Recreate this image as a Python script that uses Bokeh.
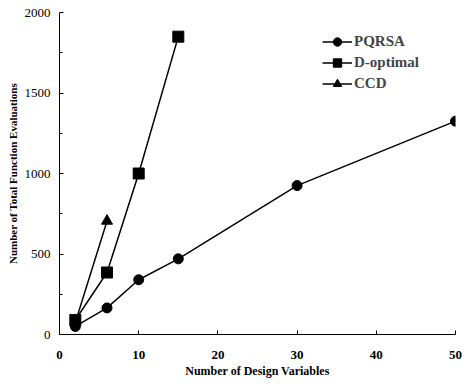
from bokeh.plotting import figure
from bokeh.models import Range1d, Legend, LegendItem, FixedTicker, Title
from bokeh.embed import file_html
from bokeh.resources import INLINE

pqrsa_x = [2, 6, 10, 15, 30, 50]
pqrsa_y = [50, 165, 340, 470, 925, 1325]
dopt_x = [2, 6, 10, 15]
dopt_y = [90, 385, 1000, 1850]
ccd_x = [2, 6]
ccd_y = [75, 705]

FONT = "Liberation Serif"

p = figure(width=462, height=379, output_backend="svg", toolbar_location=None,
           x_range=Range1d(0, 50), y_range=Range1d(0, 2000),
           min_border_left=59, min_border_right=7, min_border_top=12, min_border_bottom=45)
p.outline_line_color = None
p.grid.visible = False
p.background_fill_color = "white"

r1l = p.line(pqrsa_x, pqrsa_y, line_color="black", line_width=1.5)
r1m = p.scatter(pqrsa_x, pqrsa_y, marker="circle", size=10, fill_color="black", line_color="black")
r2l = p.line(dopt_x, dopt_y, line_color="black", line_width=1.5)
r2m = p.scatter(dopt_x, dopt_y, marker="square", size=11, fill_color="black", line_color="black")
r3l = p.line(ccd_x, ccd_y, line_color="black", line_width=1.5)
r3m = p.scatter(ccd_x, ccd_y, marker="triangle", size=11, fill_color="black", line_color="black")

legend = Legend(items=[
    LegendItem(label="PQRSA", renderers=[r1l, r1m]),
    LegendItem(label="D-optimal", renderers=[r2l, r2m]),
    LegendItem(label="CCD", renderers=[r3l, r3m]),
], location=(263, 240))
legend.border_line_color = None
legend.background_fill_alpha = 0
legend.label_text_font = FONT
legend.label_text_font_style = "bold"
legend.label_text_font_size = "15px"
legend.glyph_width = 30
legend.label_standoff = 2
legend.spacing = 0
legend.label_height = 21
legend.glyph_height = 21
legend.padding = 2
p.add_layout(legend)

p.xaxis.ticker = FixedTicker(ticks=[0, 10, 20, 30, 40, 50], minor_ticks=[])
p.yaxis.ticker = FixedTicker(ticks=[0, 500, 1000, 1500, 2000], minor_ticks=[250, 750, 1250, 1750])

for ax in (p.xaxis[0], p.yaxis[0]):
    ax.axis_line_color = "black"
    ax.axis_line_width = 1
    ax.major_tick_in = 4
    ax.major_tick_out = 0
    ax.minor_tick_in = 3
    ax.minor_tick_out = 0
    ax.major_label_text_font = FONT
    ax.major_label_text_font_size = "13px"
    ax.major_label_text_color = "black"
    ax.axis_label_text_font = FONT
    ax.axis_label_text_font_style = "bold"
    ax.axis_label_text_color = "black"

p.xaxis.major_label_text_font_style = "bold"
p.xaxis.major_label_text_line_height = 1.0
p.yaxis.axis_label = "Number of Total Function Evaluations"
p.yaxis.axis_label_text_font_size = "11px"
p.xaxis.major_label_standoff = 16
p.yaxis.major_label_standoff = 9
p.yaxis.axis_label_standoff = 3

xtitle = Title(text="Number of Design Variables", align="center", text_font=FONT,
               text_font_style="bold", text_font_size="12px", text_color="black",
               standoff=0, offset=0, text_line_height=1.0)
p.add_layout(xtitle, "below")

open("out.html", "w").write(file_html(p, INLINE))
